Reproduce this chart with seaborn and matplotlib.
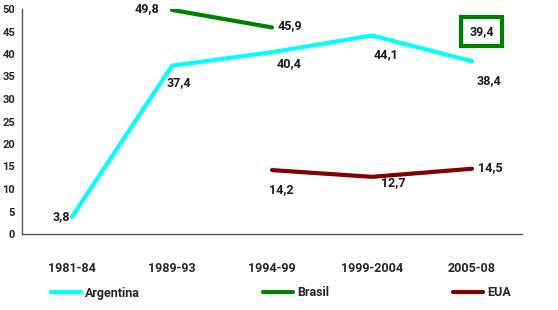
import matplotlib
import numpy as np
import pandas as pd
import seaborn as sns

matplotlib.use("Agg")
import matplotlib.pyplot as plt

periods = ["1981-84", "1989-93", "1994-99", "1999-2004", "2005-08"]
argentina = [3.8, 37.4, 40.4, 44.1, 38.4]
brasil = [np.nan, 49.8, 45.9, np.nan, 39.4]
eua = [np.nan, np.nan, 14.2, 12.7, 14.5]

colors = {"Argentina": "#00FFFF", "Brasil": "#008000", "EUA": "#800000"}

# label placement per point: (dx, dy) in points, ha
label_offsets = {
    "Argentina": [(-1, 0, "right"), (-4, -12, "left"), (12, -8, "center"), (10, -14, "center"), (12, -14, "center")],
    "Brasil": [None, (-9, 1, "right"), (4, 1, "left"), None, None],
    "EUA": [None, None, (7, -14, "center"), (15, -4, "center"), (4, 1, "left")],
}


def runs(values):
    """Split a series into contiguous non-NaN runs."""
    out, cur = [], []
    for i, v in enumerate(values):
        if np.isnan(v):
            if cur:
                out.append(cur)
            cur = []
        else:
            cur.append(i)
    if cur:
        out.append(cur)
    return out


sns.set_style("white")
plt.rcParams["font.family"] = ["Roboto", "DejaVu Sans"]
plt.rcParams["font.weight"] = "bold"

fig = plt.figure(figsize=(5.58, 3.10), dpi=100)
ax = fig.add_axes([22 / 558, 1 - 234 / 310, 500 / 558, 225 / 310])

series = {"Argentina": argentina, "Brasil": brasil, "EUA": eua}
for name, vals in series.items():
    first = True
    for run in runs(vals):
        if len(run) < 2:
            continue
        df = pd.DataFrame({"x": run, "y": [vals[i] for i in run]})
        sns.lineplot(data=df, x="x", y="y", ax=ax, color=colors[name], linewidth=3,
                     label=name if first else None, legend=False)
        first = False
    for i, v in enumerate(vals):
        off = label_offsets[name][i]
        if off is None or np.isnan(v):
            continue
        dx, dy, ha = off
        ax.annotate(f"{v:.1f}".replace(".", ","), (i, v), xytext=(dx, dy),
                    textcoords="offset points", ha=ha, va="center",
                    fontsize=9, fontweight="bold", color="#1a1a1a")

# Brasil 2005-08 shown as a boxed label
ax.annotate(f"{brasil[4]:.1f}".replace(".", ","), (4, brasil[4]), xytext=(7, 18),
            textcoords="offset points", ha="center", va="center",
            fontsize=9, fontweight="bold", color="#1a1a1a",
            bbox=dict(boxstyle="square,pad=0.65", fc="white", ec=colors["Brasil"], lw=3))

ax.set_xlim(-0.5, 4.5)
ax.set_ylim(0, 50)
ax.set_yticks(range(0, 51, 5))
ax.set_xticks(range(len(periods)))
ax.set_xticklabels(periods)
ax.set_xticks(np.arange(-0.5, 5, 1), minor=True)
ax.tick_params(axis="x", which="major", length=0, pad=20, labelsize=9)
ax.tick_params(axis="x", which="minor", length=4, width=1, direction="out", color="#555555")
ax.tick_params(axis="y", length=4, width=1, direction="out", color="#555555", labelsize=8, pad=1)
for lab in ax.get_xticklabels() + ax.get_yticklabels():
    lab.set_fontweight("bold")
ax.set_xlabel("")
ax.set_ylabel("")
for s in ["top", "right"]:
    ax.spines[s].set_visible(False)
for s in ["left", "bottom"]:
    ax.spines[s].set_color("#555555")
    ax.spines[s].set_linewidth(1)

# legend laid out across the bottom
handles, labels = ax.get_legend_handles_labels()
legend_x = [48, 260, 450]
for h, lab, lx in zip(handles, labels, legend_x):
    leg = fig.legend([h], [lab], loc="center left", bbox_to_anchor=((lx - 8) / 558, 1 - 293 / 310),
                     frameon=False, handlelength=2.4, handletextpad=0.3, fontsize=9)
    for t in leg.get_texts():
        t.set_fontweight("bold")

fig.savefig("out.png", dpi=100)
